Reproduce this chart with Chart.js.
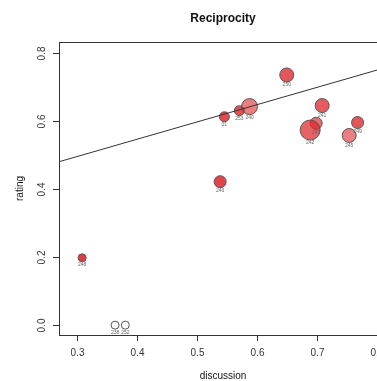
<!DOCTYPE html>
<html>
<head>
<meta charset="utf-8">
<script src="https://cdn.jsdelivr.net/npm/chart.js@4/dist/chart.umd.min.js"></script>
<style>
  html, body { margin: 0; padding: 0; background: #fff; overflow: hidden; }
  #wrap { width: 400px; height: 381px; }
</style>
</head>
<body>
<div id="wrap"><canvas id="myChart" width="400" height="381"></canvas></div>
<script>
// values
var ids        = ['248', '238', '252', '246', '01', '253', '240', '250', '241', '247', '242', '249', '245'];
var discussion = [0.309, 0.364, 0.381, 0.539, 0.546, 0.571, 0.588, 0.650, 0.709, 0.699, 0.689, 0.768, 0.754];
var rating     = [0.198, 0.000, 0.000, 0.422, 0.613, 0.631, 0.643, 0.736, 0.646, 0.594, 0.574, 0.596, 0.558];
var votes      = [16, 16, 16, 36, 25, 25, 64, 49, 49, 36, 100, 36, 49];
var agreement  = [1.0, 0.0, 0.0, 0.95, 0.9, 0.85, 0.45, 0.8, 0.75, 0.6, 0.7, 0.8, 0.45];

var xTicks = [0.3, 0.4, 0.5, 0.6, 0.7, 0.8];
var yTicks = [0.0, 0.2, 0.4, 0.6, 0.8];

// fitted line rating = a + b * discussion
var fitA = 0.343;
var fitB = 0.509;

var xMin = 0.2705, xMax = 0.817;
var yMin = -0.029, yMax = 0.833;

var points = discussion.map((d, i) => ({ x: d, y: rating[i], r: Math.sqrt(votes[i]) }));
var fills = agreement.map(a => a === 0 ? '#ffffff' : 'rgba(222, 40, 44, ' + (0.35 + 0.55 * a).toFixed(2) + ')');

var fitLine = [
  { x: xMin, y: fitA + fitB * xMin },
  { x: xMax, y: fitA + fitB * xMax }
];

const FONT = '"Liberation Sans", Arial, sans-serif';

const rStyle = {
  id: 'rStyle',
  afterDraw(chart) {
    const ctx = chart.ctx;
    const a = chart.chartArea;
    const xs = chart.scales.x, ys = chart.scales.y;
    ctx.save();
    ctx.strokeStyle = '#333';
    ctx.lineWidth = 1;
    ctx.strokeRect(Math.round(a.left) + 0.5, Math.round(a.top) + 0.5,
                   Math.round(a.right - a.left), Math.round(a.bottom - a.top));

    ctx.fillStyle = '#333';
    ctx.font = '10px ' + FONT;
    // x ticks
    ctx.textAlign = 'center';
    ctx.textBaseline = 'middle';
    xTicks.forEach(t => {
      const px = Math.round(xs.getPixelForValue(t)) + 0.5;
      ctx.beginPath();
      ctx.moveTo(px, a.bottom);
      ctx.lineTo(px, a.bottom + 6);
      ctx.stroke();
      ctx.fillText(t.toFixed(1), px, a.bottom + 18);
    });
    // y ticks
    yTicks.forEach(t => {
      const py = Math.round(ys.getPixelForValue(t)) + 0.5;
      ctx.beginPath();
      ctx.moveTo(a.left, py);
      ctx.lineTo(a.left - 6, py);
      ctx.stroke();
      ctx.save();
      ctx.translate(a.left - 17, py);
      ctx.rotate(-Math.PI / 2);
      ctx.fillText(t.toFixed(1), 0, 0);
      ctx.restore();
    });

    // titles
    ctx.fillStyle = '#111';
    ctx.font = 'bold 12px ' + FONT;
    ctx.fillText('Reciprocity', (a.left + a.right) / 2, 19);
    ctx.font = '10px ' + FONT;
    ctx.fillText('discussion', (a.left + a.right) / 2, 376);
    ctx.save();
    ctx.translate(20, (a.top + a.bottom) / 2);
    ctx.rotate(-Math.PI / 2);
    ctx.fillText('rating', 0, 0);
    ctx.restore();

    // point labels
    const meta = chart.getDatasetMeta(1);
    ctx.fillStyle = '#666';
    ctx.font = '5px ' + FONT;
    meta.data.forEach((el, i) => {
      ctx.fillText(ids[i], el.x, el.y + points[i].r + 3);
    });
    ctx.restore();
  }
};

new Chart(document.getElementById('myChart').getContext('2d'), {
  type: 'bubble',
  data: {
    datasets: [{
      type: 'line',
      data: fitLine,
      borderColor: '#333',
      borderWidth: 1,
      pointRadius: 0,
      fill: false,
      tension: 0
    }, {
      data: points,
      backgroundColor: fills,
      borderColor: '#555',
      borderWidth: 1
    }]
  },
  options: {
    responsive: false,
    animation: false,
    events: [],
    layout: { padding: { top: 42, right: 13, left: 0, bottom: 0 } },
    plugins: { legend: { display: false }, tooltip: { enabled: false } },
    scales: {
      x: {
        type: 'linear', min: xMin, max: xMax,
        grid: { display: false }, border: { display: false },
        ticks: { display: false },
        afterFit: s => { s.height = 46; }
      },
      y: {
        type: 'linear', min: yMin, max: yMax,
        grid: { display: false }, border: { display: false },
        ticks: { display: false },
        afterFit: s => { s.width = 59; }
      }
    }
  },
  plugins: [rStyle]
});
</script>
</body>
</html>
